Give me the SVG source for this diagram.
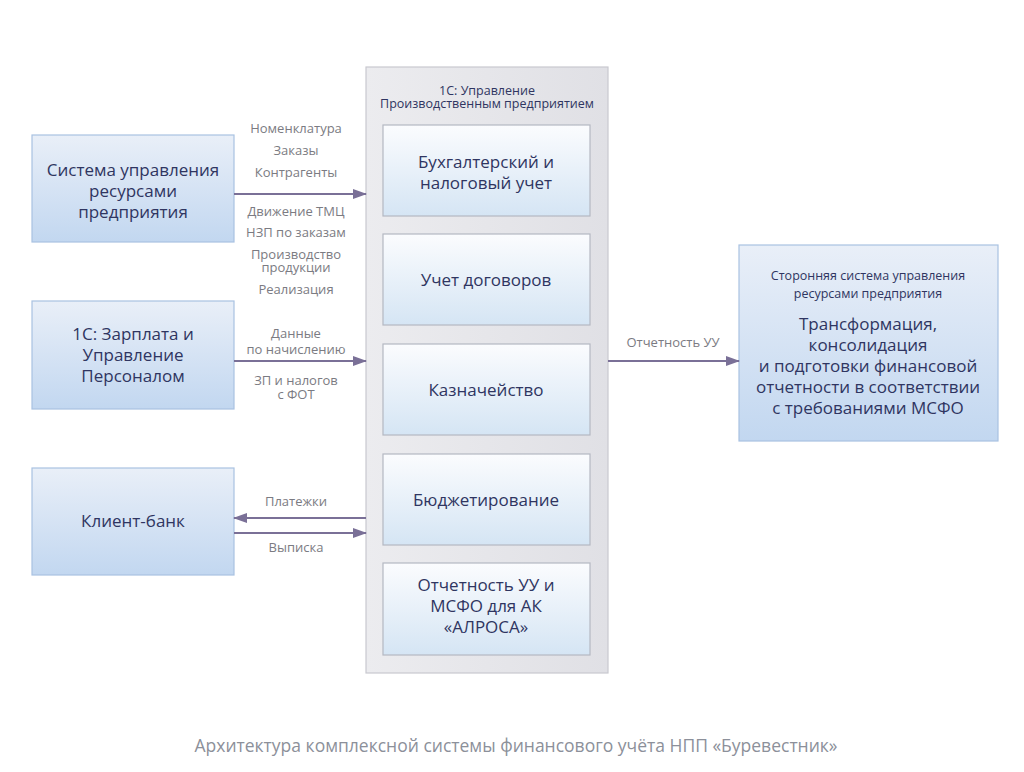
<svg xmlns="http://www.w3.org/2000/svg" width="1024" height="772" viewBox="0 0 1024 772">
<defs>
<linearGradient id="gBlue" x1="0" y1="0" x2="0" y2="1">
<stop offset="0" stop-color="#e9eff8"/>
<stop offset="1" stop-color="#c2d7f0"/>
</linearGradient>
<linearGradient id="gInner" x1="0" y1="0" x2="0" y2="1">
<stop offset="0" stop-color="#fbfcfe"/>
<stop offset="1" stop-color="#d5e5f4"/>
</linearGradient>
<linearGradient id="gGray" x1="0" y1="0" x2="1" y2="0">
<stop offset="0" stop-color="#ececef"/>
<stop offset="1" stop-color="#e0e0e5"/>
</linearGradient>
<marker id="ah" markerWidth="14" markerHeight="10" refX="13" refY="5" orient="auto" markerUnits="userSpaceOnUse">
<path d="M0,0 L14,5 L0,10 z" fill="#7a7097"/>
</marker>
</defs>
<style>
.box{fill:url(#gBlue);stroke:#a9c2e2;stroke-width:1.2}
.inner{fill:url(#gInner);stroke:#b4b8c2;stroke-width:1.2}
.cont{fill:url(#gGray);stroke:#c9c9cf;stroke-width:1.2}
.t{font-family:"Open Sans","Noto Sans",sans-serif;font-size:17px;fill:#2f3561;text-anchor:middle}
.ts{font-family:"Open Sans","Noto Sans",sans-serif;font-size:12.5px;fill:#2f3561;text-anchor:middle}
.lb{font-family:"Open Sans","Noto Sans",sans-serif;font-size:13px;fill:#7b7b82;text-anchor:middle}
.cap{font-family:"Open Sans","Noto Sans",sans-serif;font-size:17.5px;fill:#8c909a;text-anchor:middle}
.ln{stroke:#7a7097;stroke-width:1.8;fill:none;marker-end:url(#ah)}
</style>
<rect width="1024" height="772" fill="#ffffff"/>

<g id="erp">
<rect class="box" x="32" y="135" width="202" height="107"/>
<text class="t" x="133" y="176">Система управления</text>
<text class="t" x="133" y="197">ресурсами</text>
<text class="t" x="133" y="218">предприятия</text>
</g>

<g id="zup">
<rect class="box" x="32" y="301" width="202" height="108"/>
<text class="t" x="133" y="340">1С: Зарплата и</text>
<text class="t" x="133" y="361">Управление</text>
<text class="t" x="133" y="382">Персоналом</text>
</g>

<g id="bank">
<rect class="box" x="32" y="468" width="202" height="107"/>
<text class="t" x="133" y="527">Клиент-банк</text>
</g>

<g id="upp">
<rect class="cont" x="366" y="67" width="242" height="606"/>
<text class="ts" x="487" y="95">1С: Управление</text>
<text class="ts" x="487" y="108">Производственным предприятием</text>
</g>

<g id="buh">
<rect class="inner" x="383" y="125" width="207" height="91"/>
<text class="t" x="486" y="168">Бухгалтерский и</text>
<text class="t" x="486" y="189">налоговый учет</text>
</g>

<g id="dog">
<rect class="inner" x="383" y="234" width="207" height="91"/>
<text class="t" x="486" y="286">Учет договоров</text>
</g>

<g id="kazn">
<rect class="inner" x="383" y="344" width="207" height="91"/>
<text class="t" x="486" y="396">Казначейство</text>
</g>

<g id="budg">
<rect class="inner" x="383" y="454" width="207" height="91"/>
<text class="t" x="486" y="506">Бюджетирование</text>
</g>

<g id="otch">
<rect class="inner" x="383" y="563" width="207" height="92"/>
<text class="t" x="486" y="591">Отчетность УУ и</text>
<text class="t" x="486" y="612">МСФО для АК</text>
<text class="t" x="486" y="633">«АЛРОСА»</text>
</g>

<g id="msfo">
<rect class="box" x="739" y="245" width="259" height="196"/>
<text class="ts" x="868" y="280">Сторонняя система управления</text>
<text class="ts" x="868" y="298">ресурсами предприятия</text>
<text class="t" x="868" y="330">Трансформация,</text>
<text class="t" x="868" y="351">консолидация</text>
<text class="t" x="868" y="372">и подготовки финансовой</text>
<text class="t" x="868" y="393">отчетности в соответствии</text>
<text class="t" x="868" y="414">с требованиями МСФО</text>
</g>

<g id="connectors">
<line class="ln" x1="234" y1="194" x2="366" y2="194"/>
<line class="ln" x1="234" y1="361" x2="366" y2="361"/>
<line class="ln" x1="366" y1="518" x2="234" y2="518"/>
<line class="ln" x1="234" y1="533" x2="366" y2="533"/>
<line class="ln" x1="608" y1="361" x2="739" y2="361"/>
<text class="lb" x="296" y="133">Номенклатура</text>
<text class="lb" x="296" y="155">Заказы</text>
<text class="lb" x="296" y="177">Контрагенты</text>
<text class="lb" x="296" y="216">Движение ТМЦ</text>
<text class="lb" x="296" y="237">НЗП по заказам</text>
<text class="lb" x="296" y="259">Производство</text>
<text class="lb" x="296" y="272">продукции</text>
<text class="lb" x="296" y="294">Реализация</text>
<text class="lb" x="296" y="338">Данные</text>
<text class="lb" x="296" y="354">по начислению</text>
<text class="lb" x="296" y="385">ЗП и налогов</text>
<text class="lb" x="296" y="399">с ФОТ</text>
<text class="lb" x="296" y="506">Платежки</text>
<text class="lb" x="296" y="552">Выписка</text>
<text class="lb" x="673" y="347">Отчетность УУ</text>
</g>

<text class="cap" x="516" y="752">Архитектура комплексной системы финансового учёта НПП «Буревестник»</text>
</svg>
